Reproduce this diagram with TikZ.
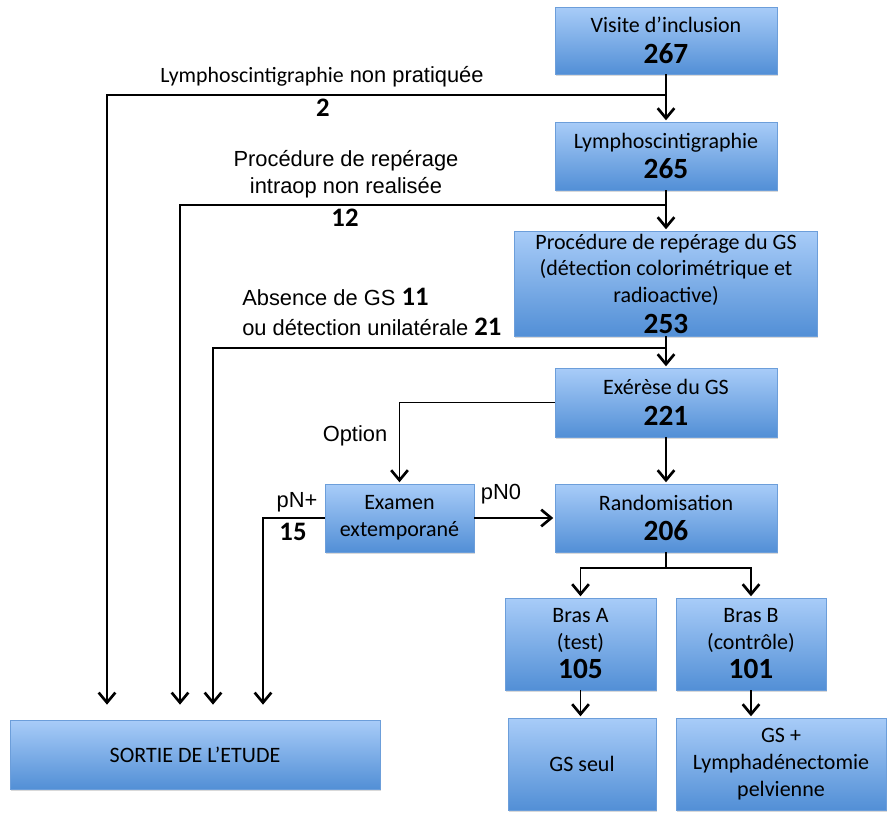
\documentclass[tikz,border=0pt]{standalone}
\usepackage{fontspec}
\setmainfont{Carlito}
\newfontfamily\arialfont{Liberation Sans}
\usetikzlibrary{arrows.meta,shadows}

\definecolor{boxtop}{RGB}{168,204,248}
\definecolor{boxbot}{RGB}{82,143,214}
\definecolor{boxline}{RGB}{108,158,218}

\tikzset{
  stage/.style={rectangle, draw=boxline, line width=0.6pt, top color=boxtop, bottom color=boxbot,
    align=center, inner sep=0pt, font=\fontsize{16.5}{20}\selectfont,
    drop shadow={shadow xshift=0.6pt, shadow yshift=-1.6pt, opacity=0.3}},
  arr/.style={line width=1.4pt, -{Straight Barb[length=7.5pt,width=12.5pt,line width=2pt]}, shorten >=1pt},
  lbl/.style={font=\arialfont\fontsize{16.4}{20}\selectfont, inner sep=0pt, align=center},
  cnt/.style={font=\fontsize{20}{20}\selectfont\bfseries, inner sep=0pt},
}
\newcommand{\cnum}[1]{{\fontsize{22}{20}\selectfont\bfseries #1}}

\begin{document}
\begin{tikzpicture}[x=0.75pt,y=-0.75pt]
  \useasboundingbox (0,0) rectangle (888,814);

  %Shape: main column
  \node[stage, minimum width=166.5pt, minimum height=50.25pt] (visite) at (666,40.5) {Visite d’inclusion\\[3pt]\cnum{267}};
  \node[stage, minimum width=166.5pt, minimum height=51pt] (lympho) at (666,156) {Lymphoscintigraphie\\[3pt]\cnum{265}};
  \node[stage, minimum width=227.25pt, minimum height=78.75pt] (proc) at (666,283.5) {Procédure de repérage du GS\\(détection colorimétrique et\\radioactive)\\[3pt]\cnum{253}};
  \node[stage, minimum width=166.5pt, minimum height=51.75pt] (exerese) at (666,402.5) {Exérèse du GS\\[3pt]\cnum{221}};
  \node[stage, minimum width=166.5pt, minimum height=51pt] (rando) at (666,518) {Randomisation\\[3pt]\cnum{206}};
  \node[stage, minimum width=111.75pt, minimum height=51pt] (examen) at (399.5,518) {Examen\\extemporané};
  %Shape: arms
  \node[stage, minimum width=113.25pt, minimum height=69pt] (brasA) at (580.5,644) {Bras A\\(test)\\[2pt]\cnum{105}};
  \node[stage, minimum width=112.5pt, minimum height=69pt] (brasB) at (751,644) {Bras B\\(contrôle)\\[2pt]\cnum{101}};
  \node[stage, minimum width=111pt, minimum height=69pt] (gsseul) at (582,764) {GS seul};
  \node[stage, minimum width=157.5pt, minimum height=69pt] (gslymph) at (781,764) {GS +\\Lymphadénectomie\\pelvienne};
  %Shape: exit
  \node[stage, minimum width=277.5pt, minimum height=51.75pt] (sortie) at (195,754.5) {SORTIE DE L’ETUDE};

  % Text Node
  \node[lbl] (noLympho) at (322,77) {{\rmfamily Lymphoscintigraphie} non pratiquée};
  \node[cnt] (nLympho) at (323,108) {2};
  % Text Node
  \node[lbl] (noReperage) at (346,174.5) {Procédure de repérage\\intraop non realisée};
  \node[cnt] (nReperage) at (345,218) {12};
  % Text Node
  \node[lbl, anchor=west, align=left] (noGS) at (242,312) {Absence de GS {\rmfamily\fontsize{20}{20}\selectfont\bfseries 11}\\[2.5pt]ou détection unilatérale {\rmfamily\fontsize{20}{20}\selectfont\bfseries 21}};
  % Text Node
  \node[lbl] (option) at (355,436) {Option};
  \node[lbl] (pNzero) at (501,494) {pN0};
  \node[lbl] (pNplus) at (297,502) {pN+};
  \node[cnt] (nPlus) at (293,532) {15};

  %Junctions
  \coordinate (b1) at (666,95);
  \coordinate (b2) at (666,205);
  \coordinate (b3) at (666,348);
  \coordinate (split) at (666,568);
  \coordinate (s1) at (107,706);
  \coordinate (s2) at (180,706);
  \coordinate (s3) at (213,706);
  \coordinate (s4) at (263,706);

  %Lines
  \draw[arr] (visite) -- (lympho);
  \draw[arr] (lympho) -- (proc);
  \draw[arr] (proc) -- (exerese);
  \draw[arr] (exerese) -- (rando);
  \draw[arr] (exerese.west) -| (examen.north);
  \draw[arr] (examen) -- (rando);
  \draw[arr] (examen.west) -| (s4);
  \draw[arr] (b1) -| (s1);
  \draw[arr] (b2) -| (s2);
  \draw[arr] (b3) -| (s3);
  \draw[line width=1.4pt] (rando.south) -- (split);
  \draw[arr] (split) -| (brasA.north);
  \draw[arr] (split) -| (brasB.north);
  \draw[arr] (brasA.south) -- (brasA.south |- gsseul.north);
  \draw[arr] (brasB.south) -- (brasB.south |- gslymph.north);

\end{tikzpicture}
\end{document}
